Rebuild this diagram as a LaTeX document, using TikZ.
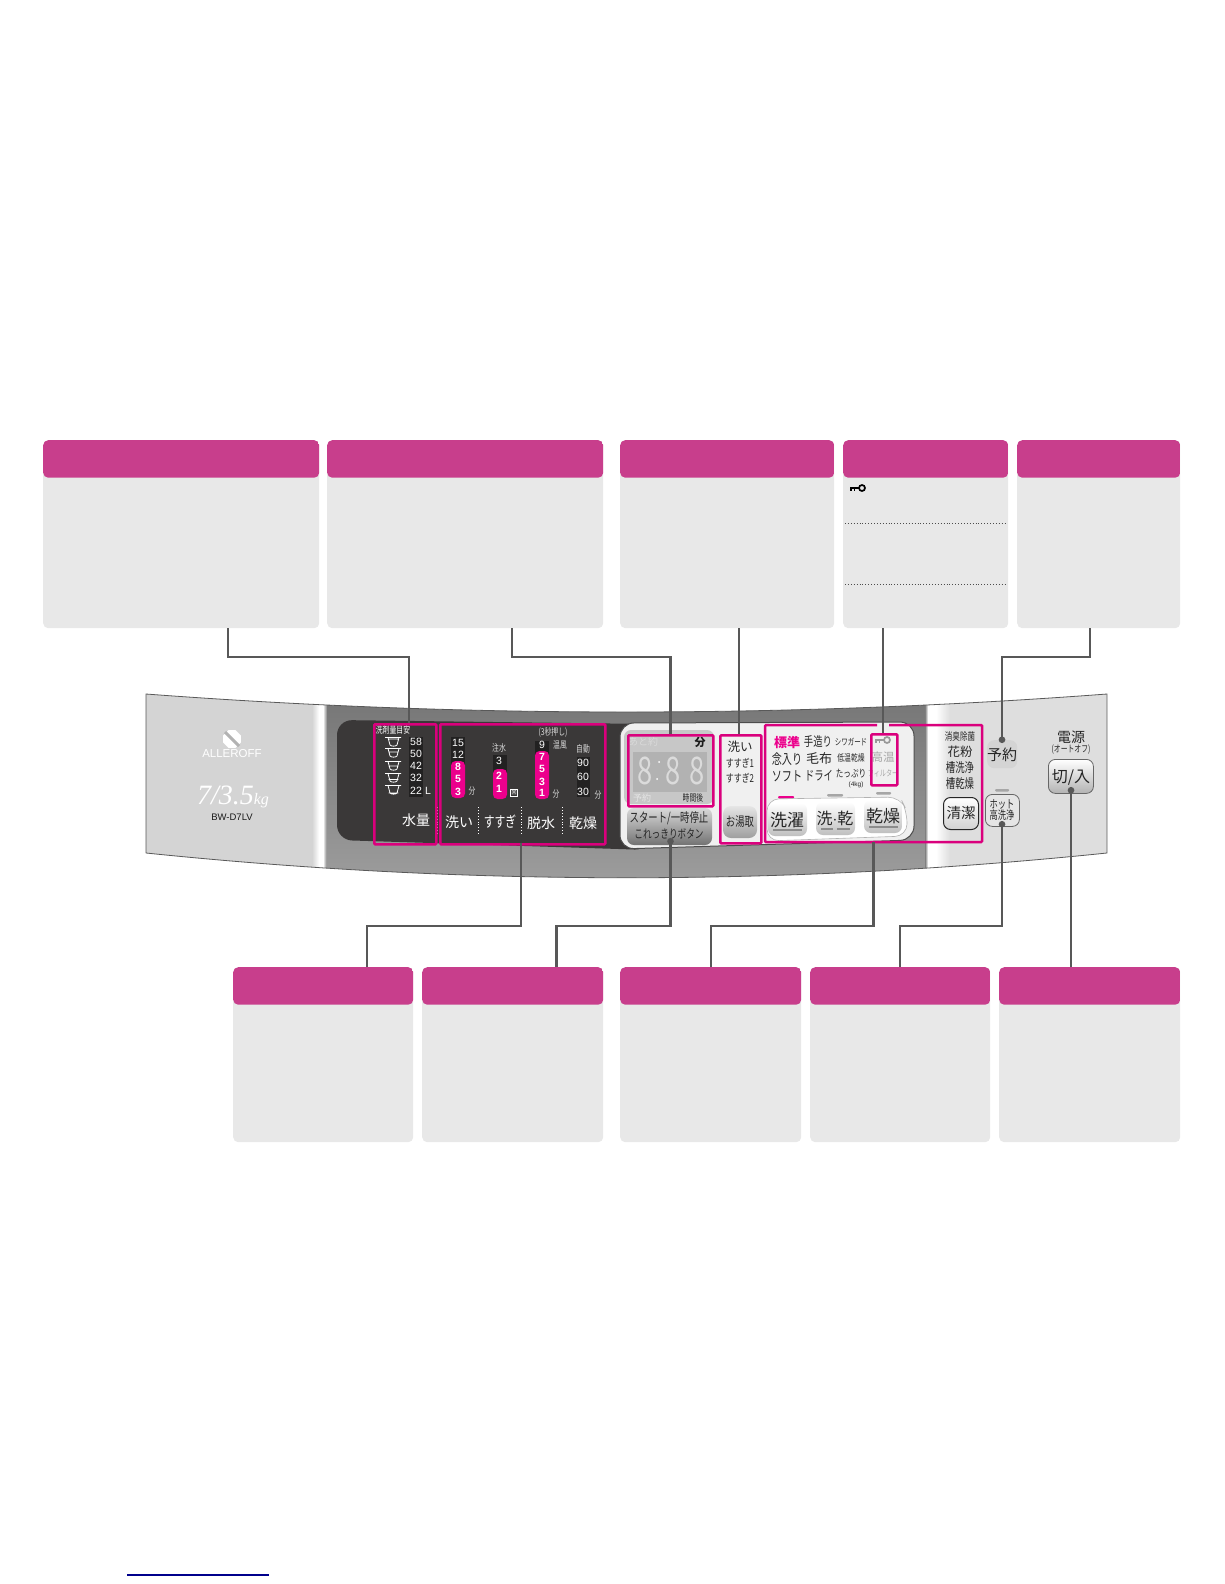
\documentclass[tikz,border=0pt]{standalone}
\usepackage{fontspec}
\setmainfont{Noto Sans CJK JP}
\newfontfamily\narrowjp[FakeStretch=0.72]{Noto Sans CJK JP}
\newfontfamily\latinsans{Liberation Sans}
\newfontfamily\latinserif{Liberation Serif}
\usetikzlibrary{shapes.geometric, arrows.meta, positioning}
\definecolor{cardpink}{RGB}{200,62,140}
\definecolor{cardgrey}{RGB}{232,232,232}
\definecolor{zonepink}{RGB}{218,0,125}
\definecolor{pillpink}{RGB}{236,0,140}
\definecolor{linkgrey}{RGB}{88,88,88}
\definecolor{darkpanel}{RGB}{58,56,56}
\definecolor{stripdark}{RGB}{34,33,33}
\newcommand{\fs}[1]{\fontsize{#1}{#1}\selectfont}
\begin{document}
\begin{tikzpicture}[
            x=1pt, y=-1pt,
            every node/.style={inner sep=0pt},
            card/.style={rectangle, rounded corners=5pt, fill=cardgrey, anchor=north west, path picture={\fill[cardpink] (path picture bounding box.north west) rectangle ([yshift=-37.5pt]path picture bounding box.north east);}},
            zone/.style={rectangle, rounded corners=1pt, draw=zonepink, line width=2.5pt, anchor=north west},
            link/.style={draw=linkgrey, line width=2.3pt},
            dotlink/.style={link, -{Circle[length=6.5pt, fill=linkgrey]}},
            softkey/.style={rectangle, rounded corners=7pt, anchor=north west},
            onblack/.style={text=white, font=\latinsans\fs{10.5}},
            pilltxt/.style={text=white, font=\latinsans\bfseries\fs{10.5}},
            tag/.style={text=white, font=\fs{14}},
            tiny/.style={text=white!85!black, font=\narrowjp\fs{9.5}},
            ink/.style={text=black!85, font=\fs{12}},
            slim/.style={text=black!85, font=\narrowjp\fs{11}},
            faded/.style={text=black!35, font=\fs{11.5}},
            keyface/.style={text=black!85, font=\fs{17}},
            keyicon/.pic={\draw[line width=1.7pt] (4,0) circle (3); \draw[line width=1.7pt] (-8,0) -- (1,0); \draw[line width=1.5pt] (-7,0) -- (-7,3) (-3.5,0) -- (-3.5,3);}
        ]
    \useasboundingbox (0,0) rectangle (1224,1584);

    \node[card, minimum width=276, minimum height=188] (topa) at (43,440) {};
    \node[card, minimum width=276, minimum height=188] (topb) at (327,440) {};
    \node[card, minimum width=214, minimum height=188] (topc) at (620,440) {};
    \node[card, minimum width=165, minimum height=188] (topd) at (843,440) {};
    \node[card, minimum width=163, minimum height=188] (tope) at (1017,440) {};
    \pic[black] (keycard) at (858,488) {keyicon};
    \draw[black!70, line width=.9pt, dotted] ([xshift=2pt]topd.west |- 0,523.5) -- ([xshift=-2pt]topd.east |- 0,523.5);
    \draw[black!70, line width=.9pt, dotted] ([xshift=2pt]topd.west |- 0,584.5) -- ([xshift=-2pt]topd.east |- 0,584.5);

    \node[card, minimum width=180, minimum height=175] (lowa) at (233,967) {};
    \node[card, minimum width=181, minimum height=175] (lowb) at (422,967) {};
    \node[card, minimum width=181, minimum height=175] (lowc) at (620,967) {};
    \node[card, minimum width=180, minimum height=175] (lowd) at (810,967) {};
    \node[card, minimum width=181, minimum height=175] (lowe) at (999,967) {};

    \draw[blue!55!black, line width=1.2pt] (127,1575) -- (269,1575);

    \begin{scope}
        \clip (146,694) .. controls (466,718) and (787,718) .. (1107,694) -- (1107,853) .. controls (787,886) and (466,886) .. (146,853) -- cycle;
        \fill[black!17] (146,680) rectangle (312,890);
        \shade[left color=black!17, right color=white] (312,680) rectangle (319,890);
        \fill[white] (319,680) rectangle (323,890);
        \shade[left color=white, right color=black!50] (323,680) rectangle (327,890);
        \shade[top color=black!55, bottom color=black!38] (327,680) rectangle (925,890);
        \shade[left color=black!50, right color=white] (925,680) rectangle (928,890);
        \fill[white] (928,680) rectangle (936,890);
        \shade[left color=white, right color=black!13] (936,680) rectangle (950,890);
        \fill[black!13] (950,680) rectangle (1107,890);
    \end{scope}
    \draw[black!65, line width=.8pt] (146,853) -- (146,694) .. controls (466,718) and (787,718) .. (1107,694) -- (1107,853) .. controls (787,886) and (466,886) .. (146,853);

    \node[regular polygon, regular polygon sides=8, fill=white, minimum size=19] (logo) at (232,739) {};
    \draw[black!30, line width=3pt] (225,732) -- (239,746);
    \node[text=white, font=\latinsans\fs{11.5}] (brand) at (232,754) {ALLEROFF};
    \node[text=white, font=\latinserif\itshape\fs{28}] (capacity) at (233,797) {7/3.5{\fs{16}kg}};
    \node[text=black!90, font=\latinsans\fs{9.5}] (model) at (232,817) {BW-D7LV};

    \fill[darkpanel, rounded corners=15pt] (337,720) -- (650,724) -- (650,850) -- (337,840) -- cycle;

    \fill[stripdark] (409,737) rectangle (423,797);
    \fill[stripdark] (451,737) rectangle (465,765);
    \fill[stripdark] (493,755) rectangle (507,773);
    \fill[stripdark] (535,741) rectangle (549,755);
    \fill[stripdark] (577,757) rectangle (590,797);
    \fill[pillpink, rounded corners=4.5pt] (451,761) rectangle (465,798);
    \fill[pillpink, rounded corners=4.5pt] (493,769) rectangle (507,799);
    \fill[pillpink, rounded corners=4.5pt] (535,751) rectangle (549,799);

    \node[text=white, font=\narrowjp\fs{9.5}] (dosage) at (393,730) {洗剤量目安};
    \foreach \cy/\lv in {742/-3, 753/-1, 766/0, 778/1.5, 790/3}
        \draw[white, line width=.8pt] (385,\cy-4.5) -- (401,\cy-4.5) (388,\cy-4.5) -- (390,\cy+3) .. controls (391,\cy+4.5) and (396,\cy+4.5) .. (397,\cy+3) -- (399,\cy-4.5) (388.7,\cy+\lv) -- (398.3,\cy+\lv);
    \node[onblack] (wa) at (416,742) {58};
    \node[onblack] (wb) at (416,754) {50};
    \node[onblack] (wc) at (416,766) {42};
    \node[onblack] (wd) at (416,778) {32};
    \node[onblack] (we) at (416,791) {22};
    \node[onblack] (litre) at (428,791) {L};
    \node[tag] (water) at (416,820) {水量};

    \node[onblack] (fa) at (458,743) {15};
    \node[onblack] (fb) at (458,755) {12};
    \node[pilltxt] (fc) at (458,767) {8};
    \node[pilltxt] (fd) at (458,779) {5};
    \node[pilltxt] (fe) at (458,792) {3};
    \node[tiny] (fmin) at (472,791) {分};
    \node[tiny] (pour) at (499,748) {注水};
    \node[onblack] (ra) at (499,761) {3};
    \node[pilltxt] (rb) at (499,776) {2};
    \node[pilltxt] (rc) at (499,789) {1};
    \node[draw=white, line width=.6pt, minimum size=7, text=white, font=\fs{5}] (times) at (514,793) {回};
    \node[tiny] (press) at (553,732) {(3秒押し)};
    \node[onblack] (sa) at (542,745) {9};
    \node[tiny] (warm) at (560,745) {温風};
    \node[pilltxt] (sb) at (542,757) {7};
    \node[pilltxt] (sc) at (542,769) {5};
    \node[pilltxt] (sd) at (542,782) {3};
    \node[pilltxt] (se) at (542,793) {1};
    \node[tiny] (smin) at (556,794) {分};
    \node[tiny] (auto) at (583,749) {自動};
    \node[onblack] (da) at (583,763) {90};
    \node[onblack] (db) at (583,777) {60};
    \node[onblack] (dc) at (583,792) {30};
    \node[tiny] (dmin) at (598,795) {分};

    \node[tag] (wash) at (459,822) {洗い};
    \node[tag, font=\narrowjp\fs{15}] (rinse) at (500,822) {すすぎ};
    \node[tag] (spin) at (541,823) {脱水};
    \node[tag] (dry) at (583,823) {乾燥};
    \draw[white, line width=.9pt, dotted] (437,807) -- (437,835);
    \draw[white, line width=.9pt, dotted] (478,807) -- (478,835);
    \draw[white, line width=.9pt, dotted] (521,807) -- (521,835);
    \draw[white, line width=.9pt, dotted] (562,807) -- (562,835);

    \draw[draw=black!70, line width=1pt, fill=black!6, rounded corners=14pt] (620,723) -- (914,722) -- (914,840) -- (620,849) -- cycle;
    \fill[black!22, rounded corners=7pt] (624,730) rectangle (714,804);
    \fill[black!30] (633,752) rectangle (707,792);
    \node[text=white!85!black, font=\fs{10}] (left) at (643,742) {あと約};
    \node[text=black!90, font=\bfseries\fs{11}] (minute) at (700,742) {分};
    \node[text=black!14, font=\narrowjp\fs{38}] (digita) at (645,771) {8};
    \node[text=black!14, font=\narrowjp\fs{38}] (digitb) at (673,771) {8};
    \node[text=black!14, font=\narrowjp\fs{38}] (digitc) at (697,771) {8};
    \node[fill=white, circle, minimum size=2] (dotup) at (659,762) {};
    \node[fill=white, circle, minimum size=2] (dotdown) at (657,779) {};
    \node[text=black!10, font=\fs{9}] (timer) at (642,798) {予約};
    \node[text=black!85, font=\narrowjp\fs{9.5}] (after) at (693,798) {時間後};

    \shade[rounded corners=7pt, top color=black!15, bottom color=black!55] (627,808) rectangle (712,845);
    \node[ink, font=\narrowjp\fs{13}] (start) at (669,818) {スタート/一時停止};
    \node[ink, font=\narrowjp\fs{12}] (oneshot) at (669,834) {これっきりボタン};

    \node[ink, font=\fs{12.5}] (cwash) at (740,747) {洗い};
    \node[slim] (crinsea) at (740,763) {すすぎ1};
    \node[slim] (crinseb) at (740,778) {すすぎ2};
    \shade[rounded corners=8pt, top color=black!10, bottom color=black!38] (723,806) rectangle (757,838);
    \node[ink, font=\narrowjp\fs{13}] (bath) at (740,822) {お湯取};

    \node[text=pillpink, font=\bfseries\fs{13}] (normal) at (787,743) {標準};
    \node[ink, font=\narrowjp\fs{13}] (hand) at (818,742) {手造り};
    \node[slim, font=\narrowjp\fs{9}] (wrinkle) at (851,742) {シワガード};
    \node[ink, font=\narrowjp\fs{14}] (careful) at (787,759) {念入り};
    \node[ink, font=\fs{13}] (blanket) at (819,759) {毛布};
    \node[slim, font=\narrowjp\fs{9.5}] (lowtemp) at (851,758) {低温乾燥};
    \node[ink, font=\narrowjp\fs{14}] (soft) at (787,776) {ソフト};
    \node[ink, font=\narrowjp\fs{13}] (dryc) at (819,776) {ドライ};
    \node[slim, font=\narrowjp\fs{10.5}] (plenty) at (851,774) {たっぷり};
    \node[slim, font=\latinsans\fs{6.5}] (fourkg) at (856,785) {(4kg)};
    \pic[black!40] (keypanel) at (883,740) {keyicon};
    \node[faded] (hot) at (883,757) {高温};
    \node[faded, font=\narrowjp\fs{8.5}] (filter) at (883,773) {フィルター};

    \fill[pillpink, rounded corners=1pt] (778,796) rectangle (794,798.5);
    \fill[black!35, rounded corners=1pt] (827,794) rectangle (843,796.5);
    \fill[black!35, rounded corners=1pt] (876,792) rectangle (891,794.5);
    \fill[black!35, rounded corners=1pt] (995,789) rectangle (1009,791.5);

    \draw[draw=black!30, line width=.6pt, fill=white, rounded corners=12pt] (767,799) -- (900,797) -- (907,811) -- (907,836) -- (767,841) -- cycle;
    \shade[rounded corners=7pt, top color=white, bottom color=black!25] (768,803) rectangle (807,836);
    \shade[rounded corners=7pt, top color=white, bottom color=black!25] (816,802) rectangle (855,835);
    \shade[rounded corners=7pt, top color=white, bottom color=black!25] (864,800) rectangle (902,833);
    \node[keyface] (bwash) at (787,820) {洗濯};
    \node[keyface, font=\fs{16}] (bboth) at (835,818) {洗$\cdot$乾};
    \node[keyface] (bdry) at (883,816) {乾燥};
    \draw[black!45, line width=1.2pt] (773,830) -- (802,830);
    \draw[black!45, line width=1.2pt] (821,829) -- (833,829) (837,829) -- (850,829);
    \draw[black!45, line width=1.2pt] (869,827) -- (898,827);

    \node[slim, font=\narrowjp\fs{10.5}] (deodor) at (960,737) {消臭除菌};
    \node[ink, font=\fs{12.5}] (pollen) at (960,752) {花粉};
    \node[slim, font=\narrowjp\fs{13}] (tubewash) at (960,768) {槽洗浄};
    \node[slim, font=\narrowjp\fs{13}] (tubedry) at (960,784) {槽乾燥};
    \node[softkey, draw=black!85, line width=1pt, minimum width=35, minimum height=32, shade, top color=white, bottom color=black!18] (cleanbtn) at (943,797) {};
    \node[ink, font=\fs{14.5}] (clean) at (961,813) {清潔};

    \node[softkey, fill=black!17, minimum width=30, minimum height=28] (timerbtn) at (987,740) {};
    \node[ink, font=\fs{15}] (timerkey) at (1002,755) {予約};
    \node[softkey, draw=black!60, line width=.8pt, fill=black!10, minimum width=34, minimum height=32] (hotbtn) at (985,794) {};
    \node[ink, font=\narrowjp\fs{11.5}] (hotup) at (1002,804) {ホット};
    \node[ink, font=\narrowjp\fs{11.5}] (hotdown) at (1002,815) {高洗浄};
    \node[ink, font=\fs{14}] (power) at (1071,737) {電源};
    \node[ink, font=\narrowjp\fs{9.5}] (autooff) at (1071,750) {(オートオフ)};
    \node[softkey, draw=black!60, line width=.8pt, minimum width=45, minimum height=34, shade, top color=white, bottom color=black!30] (powerbtn) at (1048,759) {};
    \node[ink, font=\fs{16}] (onoff) at (1071,777) {切/入};

    \node[zone, minimum width=62, minimum height=120] (zonewater) at (373,723) {};
    \node[zone, minimum width=165, minimum height=120] (zonecourse) at (439,723) {};
    \node[zone, minimum width=85, minimum height=71] (zonetime) at (627,734) {};
    \node[zone, minimum width=41, minimum height=108] (zonebath) at (719,734) {};
    \node[zone, minimum width=26, minimum height=51] (zonekey) at (870,733) {};
    \draw[zonepink, line width=2.5pt, rounded corners=1pt] (877,725) -- (765,725) -- (765,842) -- (982,842) -- (982,725) -- (889,725);

    \coordinate (benda) at (228,657);
    \coordinate (tapa) at (409,723);
    \coordinate (bendb) at (512,657);
    \coordinate (tapb) at (670.5,734);
    \coordinate (tapc) at (739,734);
    \coordinate (tapd) at (883,733);
    \coordinate (bende) at (1090,657);
    \coordinate (tape) at (1002,743);
    \coordinate (bendf) at (367,926);
    \coordinate (tapf) at (521,843);
    \coordinate (bendg) at (556.5,926);
    \coordinate (tapg) at (670.5,838);
    \coordinate (bendh) at (711,926);
    \coordinate (taph) at (873.5,842);
    \coordinate (bendi) at (900,926);
    \coordinate (tapi) at (1002,821);
    \coordinate (tapj) at (1071,787);

    \draw[link] (topa.south -| benda) -- (benda) -| (tapa);
    \draw[link] (topb.south -| bendb) -- (bendb) -| (tapb);
    \draw[link] (topc.south -| tapc) -- (tapc);
    \draw[link] (topd.south -| tapd) -- (tapd);
    \draw[dotlink] (tope.south -| bende) -- (bende) -| (tape);
    \draw[link] (lowa.north -| bendf) -- (bendf) -| (tapf);
    \draw[dotlink] (lowb.north -| bendg) -- (bendg) -| (tapg);
    \draw[link] (lowc.north -| bendh) -- (bendh) -| (taph);
    \draw[dotlink] (lowd.north -| bendi) -- (bendi) -| (tapi);
    \draw[dotlink] (lowe.north -| tapj) -- (tapj);
\end{tikzpicture}
\end{document}
